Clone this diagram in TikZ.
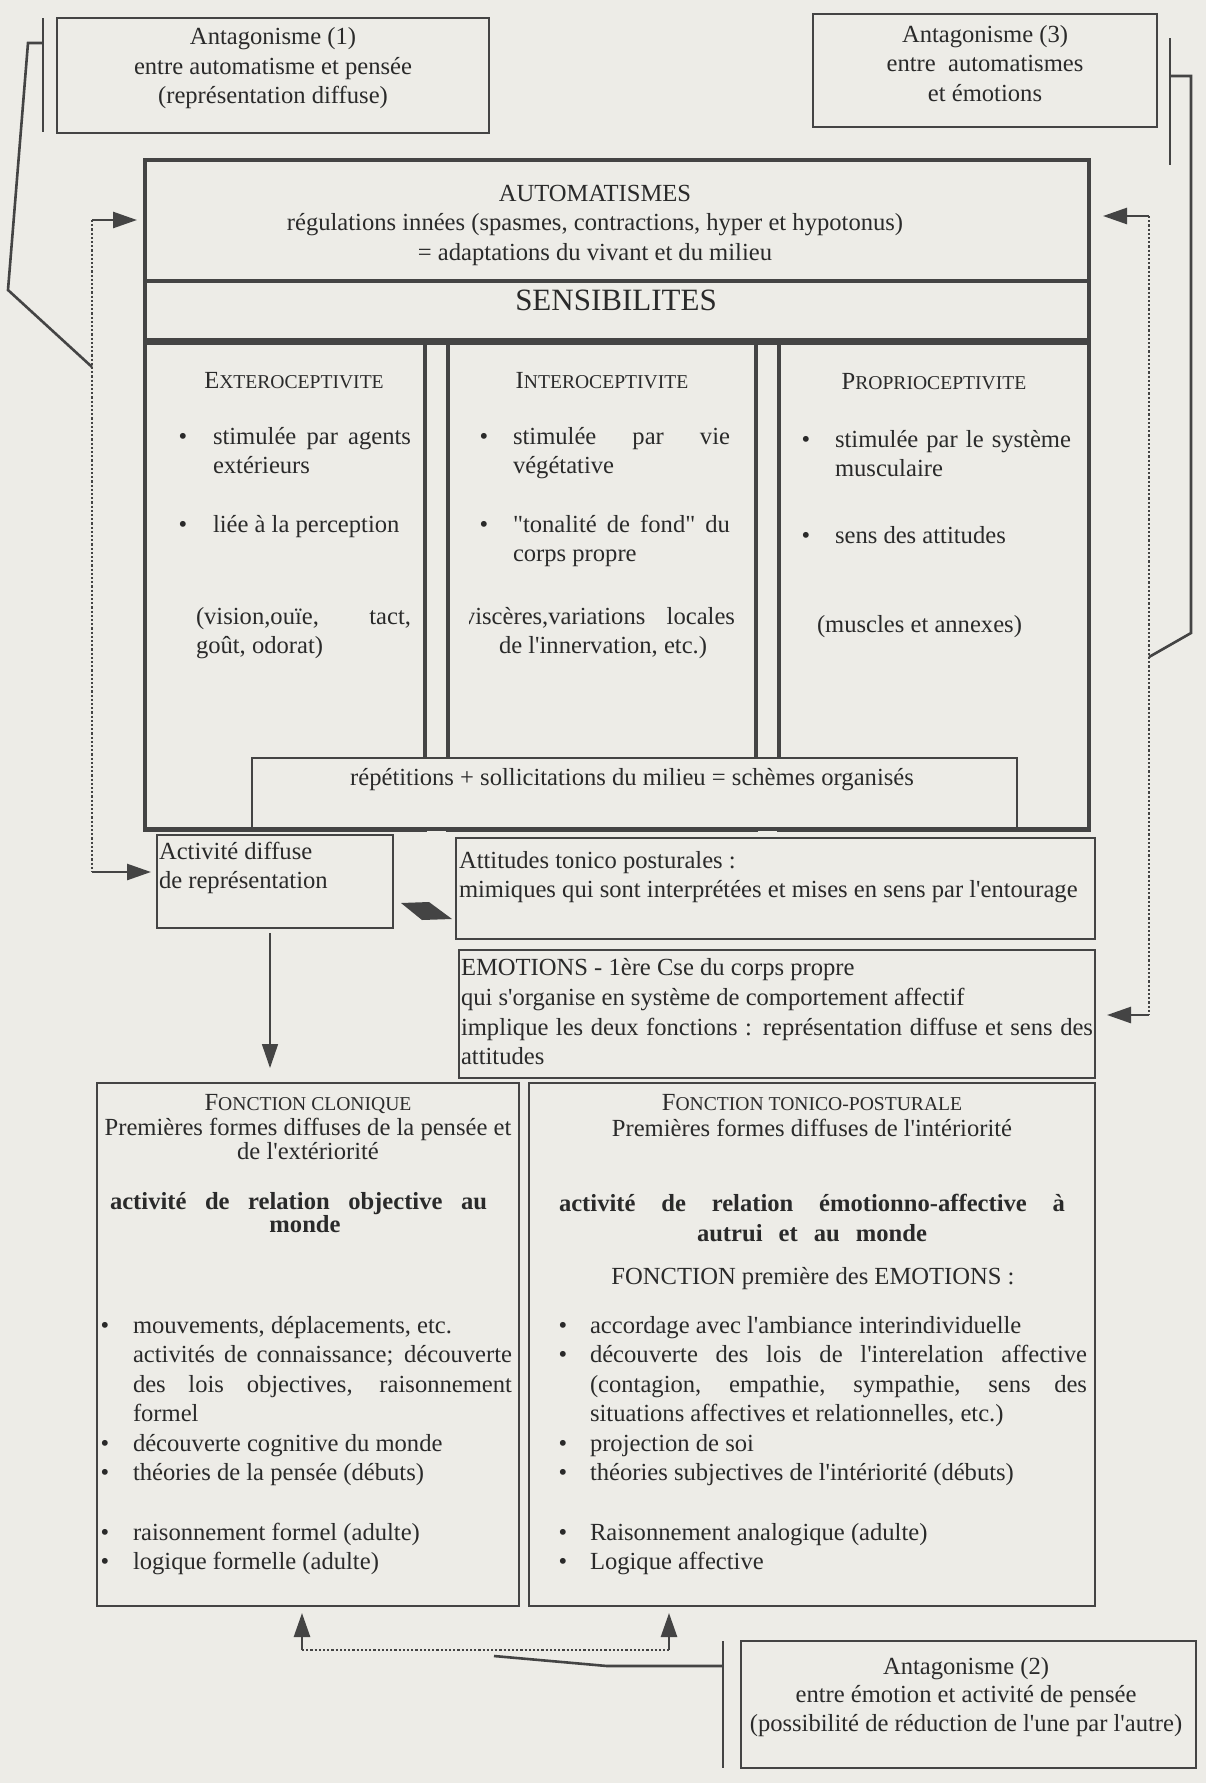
\documentclass[tikz,border=0pt]{standalone}
\usepackage{fontspec}
\setmainfont{Liberation Serif}[Ligatures=TeXOff]
\usetikzlibrary{arrows.meta,fit}
\definecolor{paper}{RGB}{237,236,231}
\definecolor{ink}{RGB}{68,68,68}
\definecolor{txtc}{RGB}{42,42,42}
\newcount\DTcnt
\newcommand\DTline[3][lineL]{\global\advance\DTcnt by 1\relax\node[#1] (t\the\DTcnt) at (#2) {#3};}
\newcommand\DTjust[2]{\makebox[#1][s]{#2}}
\newcommand\DTsc[2]{#1{\fontsize{9.8}{12}\selectfont #2}}
\begin{document}
\begin{tikzpicture}[x=0.5pt,y=-0.5pt,
  txt/.style={inner sep=0pt,outer sep=0pt,text=txtc,font=\fontsize{12.3}{14.75}\selectfont},
  lineL/.style={txt,anchor=base west},
  lineC/.style={txt,anchor=base},
  lineR/.style={txt,anchor=base east},
  thinbox/.style={draw=ink,line width=1pt,fill=paper,inner sep=0pt,outer sep=0pt},
  thickbox/.style={draw=ink,line width=2pt,inner sep=0pt,outer sep=0pt},
  colbox/.style={draw=ink,line width=2.2pt,inner sep=0pt,outer sep=0pt},
  conn/.style={draw=ink,line width=1.3pt},
  thinconn/.style={draw=ink,line width=0.8pt},
  dots/.style={draw=ink,line width=1pt,dash pattern=on 1.1pt off 1pt},
  arr/.style={-{Triangle[length=12pt,width=8pt]}},
]
\fill[paper] (0,0) rectangle (1206,1783);
\useasboundingbox (0,0) rectangle (1206,1783);

% ---------- top antagonism boxes
\node[thinbox,fit={(57,18)(489,133)}] (ant1) {};
\node[thinbox,fit={(813,14)(1157,127)}] (ant3) {};
\DTline[lineC]{273,44.5}{Antagonisme (1)}
\DTline[lineC]{273,74}{entre automatisme et pensée}
\DTline[lineC]{273,103.5}{(représentation diffuse)}
\DTline[lineC]{985,42}{Antagonisme (3)}
\DTline[lineC]{985,71.5}{entre~ automatismes}
\DTline[lineC]{985,101}{et émotions}

% ---------- columns
\node[colbox,fit={(145,342)(425,830)}] (ext) {};
\node[colbox,fit={(448,342)(756,830)}] (int) {};
\node[colbox,fit={(779,342)(1089,830)}] (pro) {};
% repetitions box
\node[thinbox,fit={(252,758)(1017,829)}] (rep) {};
% main frame
\node[thickbox,fit={(145,160)(1089,829)}] (main) {};
\draw[ink,line width=1.6pt] (145,281) -- (1089,281);
\draw[ink,line width=3.5pt] (145,341) -- (1089,341);

\DTline[lineC]{595,201}{AUTOMATISMES}
\DTline[lineC]{595,230.5}{régulations innées (spasmes, contractions, hyper et hypotonus)}
\DTline[lineC]{595,260}{= adaptations du vivant et du milieu}
\DTline[lineC]{616,310}{\fontsize{15.5}{18}\selectfont SENSIBILITES}

\DTline[lineC]{294,388}{\DTsc{E}{XTEROCEPTIVITE}}
\DTline[lineC]{602,388}{\DTsc{I}{NTEROCEPTIVITE}}
\DTline[lineC]{934,389}{\DTsc{P}{ROPRIOCEPTIVITE}}

% extero
\DTline[lineC]{183,444}{\textbullet}
\DTline[lineC]{183,532}{\textbullet}
\DTline{213,444}{\DTjust{99pt}{stimulée par agents}}
\DTline{213,473.5}{extérieurs}
\DTline{213,532}{liée à la perception}
\DTline{196,624}{\DTjust{107.5pt}{(vision,ouïe, tact,}}
\DTline{196,653.5}{goût, odorat)}
% intero
\DTline[lineC]{484,444}{\textbullet}
\DTline[lineC]{484,532}{\textbullet}
\DTline{513,444}{\DTjust{108.5pt}{stimulée par vie}}
\DTline{513,473.5}{végétative}
\DTline{513,532}{\DTjust{108.5pt}{"tonalité de fond" du}}
\DTline{513,561.5}{corps propre}
\begin{scope}
  \clip (469,600) rectangle (750,640);
  \DTline[lineR]{735,624}{\DTjust{136pt}{viscères,variations locales}}
\end{scope}
\DTline[lineC]{603,653.5}{de l'innervation, etc.)}
% proprio
\DTline[lineC]{806,447}{\textbullet}
\DTline[lineC]{806,543}{\textbullet}
\DTline{835,447}{\DTjust{118pt}{stimulée par le système}}
\DTline{835,476.5}{musculaire}
\DTline{835,543}{sens des attitudes}
\DTline{817,632}{(muscles et annexes)}

\DTline[lineC]{632,785}{répétitions + sollicitations du milieu = schèmes organisés}

% ---------- middle boxes
\node[thinbox,fit={(157,835)(393,928)}] (activ) {};
\node[thinbox,fit={(456,838)(1095,939)}] (attit) {};
\node[thinbox,fit={(459,950)(1095,1078)}] (emot) {};
\DTline{159,859}{Activité diffuse}
\DTline{159,888.5}{de représentation}
\DTline{459,868}{Attitudes tonico posturales :}
\DTline{459,897}{mimiques qui sont interprétées et mises en sens par l'entourage}
\DTline{461,975}{EMOTIONS - 1ère Cse du corps propre}
\DTline{461,1005}{qui s'organise en système de comportement affectif}
\DTline{461,1035}{\DTjust{316pt}{implique les deux fonctions : représentation diffuse et sens des}}
\DTline{461,1064}{attitudes}

% ---------- bottom function boxes
\node[thinbox,fit={(97,1083)(519,1606)}] (cloni) {};
\node[thinbox,fit={(529,1083)(1095,1606)}] (tonico) {};

\DTline[lineC]{308,1110}{\DTsc{F}{ONCTION CLONIQUE}}
\DTline[lineC]{308,1135}{Premières formes diffuses de la pensée et}
\DTline[lineC]{308,1159}{de l'extériorité}
\DTline{110,1209}{\bfseries\DTjust{188.5pt}{activité de relation objective au}}
\DTline[lineC]{305,1232}{\bfseries monde}
\foreach \yy in {1333,1451,1480.5,1540,1569.5}{\DTline[lineC]{105,\yy}{\textbullet}}
\DTline{133,1333}{mouvements, déplacements, etc.}
\DTline{133,1362.5}{\DTjust{189.5pt}{activités de connaissance; découverte}}
\DTline{133,1392}{\DTjust{189.5pt}{des lois objectives, raisonnement}}
\DTline{133,1421.5}{formel}
\DTline{133,1451}{découverte cognitive du monde}
\DTline{133,1480.5}{théories de la pensée (débuts)}
\DTline{133,1540}{raisonnement formel (adulte)}
\DTline{133,1569.5}{logique formelle (adulte)}

\DTline[lineC]{812,1110}{\DTsc{F}{ONCTION TONICO-POSTURALE}}
\DTline[lineC]{812,1136}{Premières formes diffuses de l'intériorité}
\DTline{559,1211}{\bfseries\DTjust{253pt}{activité de relation émotionno-affective à}}
\DTline[lineC]{812,1241}{\bfseries\DTjust{115pt}{autrui et au monde}}
\DTline[lineC]{813,1284}{FONCTION première des EMOTIONS :}
\foreach \yy in {1333,1362.5,1451,1480.5,1540,1569.5}{\DTline[lineC]{563,\yy}{\textbullet}}
\DTline{590,1333}{accordage avec l'ambiance interindividuelle}
\DTline{590,1362.5}{\DTjust{248.5pt}{découverte des lois de l'interelation affective}}
\DTline{590,1392}{\DTjust{248.5pt}{(contagion, empathie, sympathie, sens des}}
\DTline{590,1421.5}{situations affectives et relationnelles, etc.)}
\DTline{590,1451}{projection de soi}
\DTline{590,1480.5}{théories subjectives de l'intériorité (débuts)}
\DTline{590,1540}{Raisonnement analogique (adulte)}
\DTline{590,1569.5}{Logique affective}

% ---------- antagonism 2
\node[thinbox,fit={(741,1641)(1196,1768)}] (ant2) {};
\DTline[lineC]{966,1674}{Antagonisme (2)}
\DTline[lineC]{966,1702}{entre émotion et activité de pensée}
\DTline[lineC]{966,1731}{(possibilité de réduction de l'une par l'autre)}

% ---------- connectors
% left antagonism bracket
\coordinate (lbA) at (43,18);
\coordinate (lbB) at (43,132);
\coordinate (lk1) at (43,43);
\coordinate (lk2) at (28,43);
\coordinate (lk3) at (8,290);
\coordinate (lk4) at (92,367);
\draw[conn] (lbA) -- (lbB);
\draw[conn] (lk1) -- (lk2) -- (lk3) -- (lk4);
% left dotted loop
\coordinate (ld1) at (92,220);
\coordinate (ld2) at (92,872);
\draw[dots] (ld1) -- (ld2);
\draw[conn,arr,shorten >=4pt] (ld1) -- (main.west |- ld1);
\draw[conn,arr,shorten >=3pt] (ld2) -- (activ.west |- ld2);
% right antagonism bracket
\coordinate (rbA) at (1170,38);
\coordinate (rbB) at (1170,165);
\coordinate (rk1) at (1170,76);
\coordinate (rk2) at (1191,76);
\coordinate (rk3) at (1191,633);
\coordinate (rk4) at (1149,657);
\draw[conn] (rbA) -- (rbB);
\draw[conn] (rk1) -- (rk2) -- (rk3) -- (rk4);
% right dotted loop
\coordinate (rd1) at (1149,216);
\coordinate (rd2) at (1149,1015);
\draw[dots] (rd1) -- (rd2);
\draw[conn,arr,shorten >=7pt] (rd1) -- (main.east |- rd1);
\draw[conn,arr,shorten >=6pt] (rd2) -- (emot.east |- rd2);
% activity down arrow
\coordinate (da) at (270,933);
\draw[thinconn,arr,shorten >=7.5pt] (da) -- (cloni.north -| da);
% wedge arrow
\fill[ink] (401,903) -- (429,902) -- (452,919) -- (422,920) -- cycle;
% bottom arrows
\coordinate (ba1) at (302,1650);
\coordinate (ba2) at (669,1650);
\draw[dots] (ba1) -- (ba2);
\draw[conn,arr,shorten >=3.5pt] (ba1) -- (cloni.south -| ba1);
\draw[conn,arr,shorten >=3.5pt] (ba2) -- (tonico.south -| ba2);
% antagonism 2 bracket
\coordinate (bbA) at (723,1641);
\coordinate (bbB) at (723,1768);
\coordinate (bk1) at (723,1666);
\coordinate (bk2) at (607,1666);
\coordinate (bk3) at (494,1656);
\draw[conn] (bbA) -- (bbB);
\draw[conn] (bk1) -- (bk2) -- (bk3);
\end{tikzpicture}
\end{document}
